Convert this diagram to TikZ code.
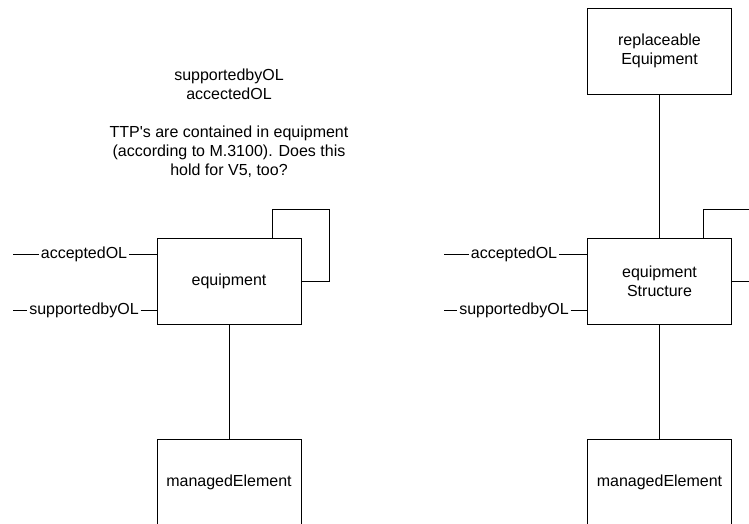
\documentclass[tikz,border=0pt]{standalone}
\usepackage{fontspec}
\setmainfont{Liberation Sans}[Ligatures=TeXOff]
\begin{document}
\begin{tikzpicture}[x=1pt,y=-1pt,line width=0.8pt,
    every node/.style={font=\fontsize{16}{19}\selectfont},
    cls/.style={draw,minimum width=144pt,minimum height=86pt,align=center,inner sep=0pt},
    attr/.style={inner xsep=1.5pt,inner ysep=0pt}]
      \clip (0,0) rectangle (749,524);
      % left part
      \node[cls] (eq) at (229,281) {equipment};
      \node[cls] (me) at (229,482) {managedElement};
      \node[align=center] (note) at (229,123) {supportedbyOL\\accectedOL\\[19pt]TTP's are contained in equipment\\(according to M.3100). Does this\\hold for V5, too?};
      \coordinate (a1) at (13,254);
      \coordinate (s1) at (13,310);
      \node[attr] (acc) at (84,254) {acceptedOL};
      \node[attr] (sup) at (84,310) {supportedbyOL};
      \draw (a1) -- (acc) -- (acc -| eq.west);
      \draw (s1) -- (sup) -- (sup -| eq.west);
      \draw (eq) -- (me);
      \draw ([xshift=43pt]eq.north) |- (329,209) |- (eq.east);
      % right part
      \node[cls] (rep) at (659.5,51) {replaceable\\Equipment};
      \node[cls] (eqs) at (659.5,281) {equipment\\Structure};
      \node[cls] (me2) at (659.5,482) {managedElement};
      \coordinate (a2) at (444,254);
      \coordinate (s2) at (444,310);
      \node[attr] (acc2) at (514,254) {acceptedOL};
      \node[attr] (sup2) at (514,310) {supportedbyOL};
      \draw (a2) -- (acc2) -- (acc2 -| eqs.west);
      \draw (s2) -- (sup2) -- (sup2 -| eqs.west);
      \draw (rep) -- (eqs) -- (me2);
      \draw ([xshift=43.5pt]eqs.north) |- (790,209) |- (eqs.east);
\end{tikzpicture}
\end{document}
